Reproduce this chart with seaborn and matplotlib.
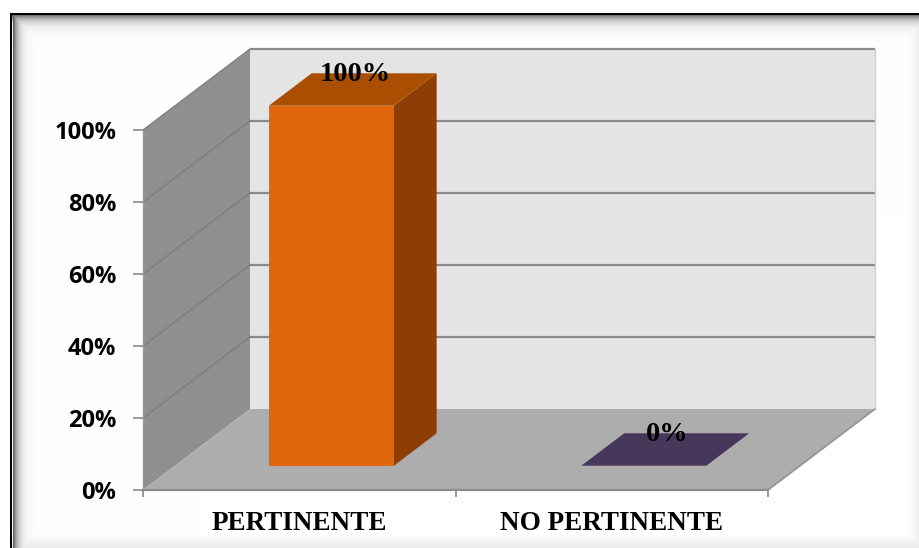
import numpy as np
import pandas as pd
import matplotlib
matplotlib.use("Agg")
import matplotlib.pyplot as plt
import seaborn as sns
from matplotlib.patches import Polygon

# ---- data ----
categories = ["PERTINENTE", "NO PERTINENTE"]
percentages = [100, 0]
value_labels = ["100%", "0%"]
y_ticks = [0, 20, 40, 60, 80, 100]
y_tick_labels = ["0%", "20%", "40%", "60%", "80%", "100%"]

# ---- style ----
front_colors = ["#E0670B", "#5A4872"]
top_colors = ["#AA4F02", "#47375A"]
side_colors = ["#8D3E04", "#36294A"]
BACK_WALL = "#E4E4E4"
SIDE_WALL = "#8F8F8F"
FLOOR = "#ADADAD"
GRID = "#8A8A8A"

W, H, DPI = 920, 548, 100
DEPTH_PX = (107.0, 81.0)      # screen offset of the full chart depth
BAR_FRONT, BAR_BACK = 0.3, 0.7  # bar slab position within the depth

sns.set_theme(style="white")
plt.rcParams["font.family"] = ["DejaVu Sans"]
SERIF = ["Liberation Serif", "DejaVu Serif"]
SANS = ["Open Sans", "DejaVu Sans"]

fig = plt.figure(figsize=(W / DPI, H / DPI), dpi=DPI)

# ---- frame with soft inner shadow ----
yy, xx = np.mgrid[0:H, 0:W].astype(float)
top_d = yy - 15
left_d = xx - 13
g_top = np.where(top_d >= 0, 0.55 * np.exp(-top_d / 5.5), 0)
g_left = np.where(left_d >= 0, 0.62 * np.exp(-left_d / 5.0), 0)
shade = np.maximum(g_top, g_left)
shade = np.maximum(shade, 0.09 * np.clip((yy - 534) / 14, 0, 1))
shade = np.maximum(shade, 0.07 * np.clip((xx - 906) / 14, 0, 1))
inside = (yy >= 13) & (xx >= 10)
shade = np.where(inside, shade, 0)
shade[13:15, 10:] = 1.0
shade[13:, 10:12] = 1.0
val = 1 - shade
bg = np.dstack([val, val, val])
fig.figimage(bg, xo=0, yo=0, origin="upper", zorder=-1)

# ---- axes: the front plane of the chart ----
ax = fig.add_axes([143 / W, 58 / H, 625 / W, 360 / H])
ax.set_facecolor("none")

df = pd.DataFrame({"categoria": categories, "porcentaje": percentages})
sns.barplot(data=df, x="categoria", y="porcentaje", hue="categoria",
            palette=front_colors, width=0.4, saturation=1, legend=False,
            ax=ax, zorder=5)
ax.set_xlim(-0.5, len(categories) - 0.5)
ax.set_ylim(0, 100)
bars = [p for p in ax.patches]


def proj(x, y, d):
    """Data point (x, y) pushed back by depth fraction d."""
    px, py = ax.transData.transform((x, y))
    return ax.transData.inverted().transform(
        (px + d * DEPTH_PX[0], py + d * DEPTH_PX[1]))


x_lo, x_hi = -0.5, len(categories) - 0.5
y_lo, y_hi = 0, 100

# back wall
ax.add_patch(Polygon([proj(x_lo, y_lo, 1), proj(x_hi, y_lo, 1),
                      proj(x_hi, y_hi, 1), proj(x_lo, y_hi, 1)],
                     closed=True, facecolor=BACK_WALL, edgecolor="none",
                     clip_on=False, zorder=0.5))
# left side wall
ax.add_patch(Polygon([proj(x_lo, y_lo, 0), proj(x_lo, y_hi, 0),
                      proj(x_lo, y_hi, 1), proj(x_lo, y_lo, 1)],
                     closed=True, facecolor=SIDE_WALL, edgecolor="none",
                     clip_on=False, zorder=0.6))
# floor
ax.add_patch(Polygon([proj(x_lo, y_lo, 0), proj(x_hi, y_lo, 0),
                      proj(x_hi, y_lo, 1), proj(x_lo, y_lo, 1)],
                     closed=True, facecolor=FLOOR, edgecolor="none",
                     clip_on=False, zorder=0.7))

# gridlines on back wall and side wall
for v in y_ticks[1:]:
    a, b = proj(x_lo, v, 1), proj(x_hi, v, 1)
    ax.plot([a[0], b[0]], [a[1], b[1]], color=GRID, lw=1.6,
            clip_on=False, zorder=0.8, solid_capstyle="butt")
    c, e = proj(x_lo, v, 0), proj(x_lo, v, 1)
    ax.plot([c[0], e[0]], [c[1], e[1]], color="#7C7C7C", lw=0.9,
            clip_on=False, zorder=0.8)
# right edge of back wall and floor
a, b = proj(x_hi, y_lo, 1), proj(x_hi, y_hi, 1)
ax.plot([a[0], b[0]], [a[1], b[1]], color="#D2D2D2", lw=1.0,
        clip_on=False, zorder=0.8)
a, b = proj(x_hi, y_lo, 0), proj(x_hi, y_lo, 1)
ax.plot([a[0], b[0]], [a[1], b[1]], color="#939393", lw=1.2,
        clip_on=False, zorder=0.9)

# ---- bars as 3D slabs ----
for i, rect in enumerate(bars):
    x0 = rect.get_x()
    x1 = x0 + rect.get_width()
    v = rect.get_height()
    rect.set_xy(proj(x0, 0, BAR_FRONT))
    rect.set_clip_on(False)
    rect.set_edgecolor("none")
    # right face
    ax.add_patch(Polygon([proj(x1, 0, BAR_FRONT), proj(x1, v, BAR_FRONT),
                          proj(x1, v, BAR_BACK), proj(x1, 0, BAR_BACK)],
                         closed=True, facecolor=side_colors[i],
                         edgecolor="none", clip_on=False, zorder=4))
    # top face
    ax.add_patch(Polygon([proj(x0, v, BAR_FRONT), proj(x1, v, BAR_FRONT),
                          proj(x1, v, BAR_BACK), proj(x0, v, BAR_BACK)],
                         closed=True, facecolor=top_colors[i],
                         edgecolor="none", clip_on=False, zorder=6))
    # value label
    cx = x0 + rect.get_width() / 2
    ax.annotate(value_labels[i], xy=proj(cx, v, 0.5), xytext=(1.5, 6),
                textcoords="offset points", ha="center", va="baseline",
                fontsize=20.5, fontweight="bold", family=SERIF,
                color="black", zorder=10, annotation_clip=False)

# ---- axes decoration ----
for s in ["top", "right"]:
    ax.spines[s].set_visible(False)
ax.spines["left"].set_color("#9A9A9A")
ax.spines["bottom"].set_color(GRID)
ax.spines["left"].set_linewidth(1.0)
ax.spines["bottom"].set_linewidth(1.6)
ax.spines["left"].set_zorder(1)
ax.spines["bottom"].set_zorder(1)

ax.set_yticks(y_ticks)
ax.set_yticklabels(y_tick_labels)
ax.tick_params(axis="y", which="major", length=7.2, width=1.2,
               color=GRID, pad=12, left=True)
for lbl in ax.get_yticklabels():
    lbl.set_fontfamily(SANS)
    lbl.set_fontweight("bold")
    lbl.set_fontsize(17)
    lbl.set_color("black")

ax.set_xticks([x_lo + k for k in range(len(categories) + 1)])
ax.set_xticklabels([""] * (len(categories) + 1))
ax.set_xticks(range(len(categories)), minor=True)
ax.set_xticklabels(categories, minor=True)
ax.tick_params(axis="x", which="major", length=5, width=1.2,
               color=GRID, bottom=True)
ax.tick_params(axis="x", which="minor", length=0, pad=15, bottom=True)
for lbl in ax.get_xticklabels(minor=True):
    lbl.set_fontfamily(SERIF)
    lbl.set_fontweight("bold")
    lbl.set_fontsize(19.5)
    lbl.set_color("black")

ax.set_xlabel("")
ax.set_ylabel("")
ax.grid(False)

fig.savefig("out.png", dpi=DPI)
